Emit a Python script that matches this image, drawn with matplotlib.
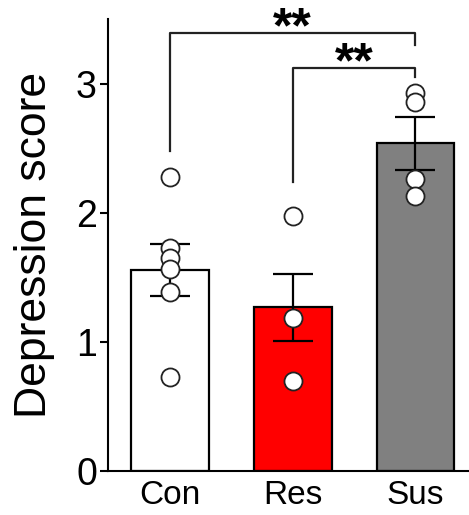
import matplotlib
matplotlib.use("Agg")
import matplotlib.pyplot as plt
import numpy as np

plt.rcParams['font.family'] = ['Liberation Sans', 'DejaVu Sans']

categories = ["Con", "Res", "Sus"]
means = [1.56, 1.27, 2.54]
sems = [0.20, 0.26, 0.205]
bar_colors = ["#FFFFFF", "#FF0000", "#808080"]
points_con = [2.28, 1.73, 1.65, 1.57, 1.39, 0.73]
points_res = [1.98, 1.19, 0.70]
points_sus = [2.93, 2.86, 2.26, 2.13]
points = [points_con, points_res, points_sus]
yticks = [0, 1, 2, 3]

# significance brackets: (left group, right group, bar height, left leg end, right leg end, label, label baseline)
brackets = [
    (0, 2, 3.39, 2.48, 3.30, "**", 3.32),
    (1, 2, 3.12, 2.24, 3.05, "**", 3.05),
]

fig = plt.figure(figsize=(4.69, 5.15), dpi=100)
ax = fig.add_axes([0.2303, 0.0845, 0.7697, 0.8786])

x = np.arange(len(categories))
ax.bar(x, means, width=0.635, color=bar_colors, edgecolor="black", linewidth=1.6, zorder=1)
ax.errorbar(x, means, yerr=sems, fmt="none", ecolor="black", elinewidth=1.6,
            capsize=14.5, capthick=1.6, zorder=2)
for i, pts in enumerate(points):
    ax.plot(np.full(len(pts), x[i]), pts, linestyle="none", marker="o", markersize=13,
            markerfacecolor="white", markeredgecolor="#222222", markeredgewidth=1.3, zorder=3)

for (g1, g2, h, l1, l2, lab, ty) in brackets:
    ax.plot([x[g1], x[g1], x[g2], x[g2]], [l1, h, h, l2], color="#222222", linewidth=1.6,
            clip_on=False, zorder=4)
    ax.text((x[g1] + x[g2]) / 2, ty, lab, ha="center", va="baseline",
            fontsize=36, fontweight="bold", clip_on=False)

ax.set_xlim(-0.505, 2.436)
ax.set_ylim(0, 3.5)
ax.set_yticks(yticks)
ax.set_xticks(x)
ax.set_xticklabels(categories, fontsize=24)
ax.tick_params(axis="x", length=0, pad=6)
ax.tick_params(axis="y", labelsize=27, length=6, width=1.5, direction="out", pad=2)
for s in ["top", "right"]:
    ax.spines[s].set_visible(False)
for s in ["left", "bottom"]:
    ax.spines[s].set_linewidth(1.5)

fig.text(35 / 469, 1 - 245 / 515, "Depression score", rotation=90, ha="center", va="center",
         fontsize=32)

fig.savefig("out.png", dpi=100)
